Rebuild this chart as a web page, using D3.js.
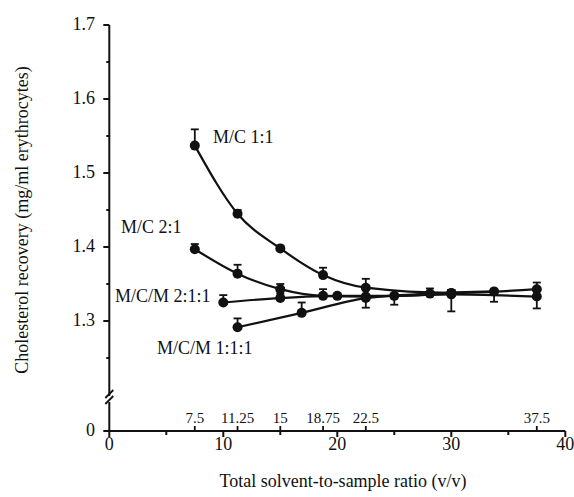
<!DOCTYPE html>
<html>
<head>
<meta charset="utf-8">
<script src="https://cdn.jsdelivr.net/npm/d3@7"></script>
<style>
    body { margin: 0; background: #fff; }
    svg text { font-family: "Liberation Serif", "Times New Roman", serif; fill: #111; }
    .curve { fill: none; stroke: #111; stroke-width: 2.2; }
    .err { stroke: #111; stroke-width: 1.8; fill: none; }
    .axis-line { stroke: #111; stroke-width: 2; fill: none; }
</style>
</head>
<body>
<svg class="chart"></svg>
<script>
var width = 574;
var height = 497;

// x positions of each series (v/v)
var xMC = [7.5, 11.25, 15, 18.75, 22.5, 30, 37.5];
var xMCM211 = [10, 15, 20, 25, 30];
var xMCM111 = [11.25, 16.875, 22.5, 28.125, 33.75];

// cholesterol recovery, mg/ml; error > 0 drawn up, < 0 drawn down
var mc11 = [1.537, 1.445, 1.398, 1.362, 1.345, 1.338, 1.343];
var mc11Err = [0.022, 0.005, 0.004, 0.010, 0.012, 0.004, 0.009];
var mc21 = [1.397, 1.364, 1.343, 1.334, 1.333, 1.336, 1.333];
var mc21Err = [0.007, 0.012, 0.007, 0.009, 0, 0.005, -0.016];
var mcm211 = [1.325, 1.331, 1.334, 1.334, 1.337];
var mcm211Err = [0.010, 0.006, 0, -0.012, -0.024];
var mcm111 = [1.2915, 1.311, 1.331, 1.337, 1.340];
var mcm111Err = [0.012, 0.014, -0.013, 0.007, -0.014];

var seriesNames = ["M/C 1:1", "M/C 2:1", "M/C/M 2:1:1", "M/C/M 1:1:1"];

var yTicksMajor = [1.3, 1.4, 1.5, 1.6, 1.7];
var yTicksMinor = [1.25, 1.35, 1.45, 1.55, 1.65];
var xTicksMajor = [0, 10, 20, 30, 40];
var xTicksMinor = [5, 15, 25, 35];
var xTicksRatio = [7.5, 11.25, 15, 18.75, 22.5, 37.5];

var series = [
    { name: seriesNames[0], x: xMC, y: mc11, e: mc11Err, lx: 213, ly: 143 },
    { name: seriesNames[1], x: xMC, y: mc21, e: mc21Err, lx: 121, ly: 233 },
    { name: seriesNames[2], x: xMCM211, y: mcm211, e: mcm211Err, lx: 115, ly: 302 },
    { name: seriesNames[3], x: xMCM111, y: mcm111, e: mcm111Err, lx: 157, ly: 354 }
];

var x = d3.scaleLinear().domain([0, 40]).range([109.3, 565.3]);
// broken axis: 0 at the bottom, then 1.2 .. 1.7
var y = d3.scaleLinear().domain([0, 1.2, 1.7]).range([431, 395, 25]);

var chart = d3.select(".chart")
    .attr("width", width)
    .attr("height", height);

var g = chart.append("g");

// y axis, two pieces with a break
var x0 = x(0);
g.append("path").attr("class", "axis-line")
    .attr("d", "M" + x0 + "," + y(1.7) + "V396");
g.append("path").attr("class", "axis-line")
    .attr("d", "M" + x0 + ",402V" + y(0));
g.append("path").attr("class", "err")
    .attr("d", "M" + (x0 - 4) + ",398L" + (x0 + 4) + ",390M" + (x0 - 4) + ",404L" + (x0 + 4) + ",396");

g.selectAll("line.ytick")
    .data(yTicksMajor.concat([0]))
    .enter().append("line")
    .attr("class", "axis-line")
    .attr("x1", x0 - 6).attr("x2", x0)
    .attr("y1", function(d) { return y(d); })
    .attr("y2", function(d) { return y(d); });

g.selectAll("line.yminor")
    .data(yTicksMinor)
    .enter().append("line")
    .attr("class", "axis-line")
    .attr("x1", x0 - 3).attr("x2", x0)
    .attr("y1", function(d) { return y(d); })
    .attr("y2", function(d) { return y(d); });

g.selectAll("text.ylab")
    .data(yTicksMajor.concat([0]))
    .enter().append("text")
    .attr("x", 95)
    .attr("y", function(d) { return y(d) + 5; })
    .attr("text-anchor", "end")
    .style("font-size", "18px")
    .text(function(d) { return d === 0 ? "0" : d3.format(".1f")(d); });

// x axis
var yb = y(0);
g.append("path").attr("class", "axis-line")
    .attr("d", "M" + x0 + "," + yb + "H" + x(40));

g.selectAll("line.xtick")
    .data(xTicksMajor)
    .enter().append("line")
    .attr("class", "axis-line")
    .attr("x1", function(d) { return x(d); })
    .attr("x2", function(d) { return x(d); })
    .attr("y1", yb).attr("y2", yb + 6);

g.selectAll("line.xminor")
    .data(xTicksMinor)
    .enter().append("line")
    .attr("class", "axis-line")
    .attr("x1", function(d) { return x(d); })
    .attr("x2", function(d) { return x(d); })
    .attr("y1", yb).attr("y2", yb + 4);

g.selectAll("line.xratio")
    .data(xTicksRatio)
    .enter().append("line")
    .attr("class", "err")
    .attr("x1", function(d) { return x(d); })
    .attr("x2", function(d) { return x(d); })
    .attr("y1", yb).attr("y2", yb - 5);

g.selectAll("text.xlab")
    .data(xTicksMajor)
    .enter().append("text")
    .attr("x", function(d) { return x(d); })
    .attr("y", yb + 19)
    .attr("text-anchor", "middle")
    .style("font-size", "18px")
    .text(function(d) { return d; });

g.selectAll("text.xratio")
    .data(xTicksRatio)
    .enter().append("text")
    .attr("x", function(d) { return x(d); })
    .attr("y", yb - 8)
    .attr("text-anchor", "middle")
    .style("font-size", "15px")
    .text(function(d) { return d; });

// axis titles
g.append("text")
    .attr("x", 343)
    .attr("y", 487)
    .attr("text-anchor", "middle")
    .style("font-size", "18px")
    .text("Total solvent-to-sample ratio (v/v)");

g.append("text")
    .attr("transform", "translate(28,220) rotate(-90)")
    .attr("text-anchor", "middle")
    .style("font-size", "18px")
    .text("Cholesterol recovery (mg/ml erythrocytes)");

// curves, error bars, points
var line = d3.line()
    .x(function(d) { return x(d[0]); })
    .y(function(d) { return y(d[1]); })
    .curve(d3.curveMonotoneX);

series.forEach(function(s) {
    var pts = s.x.map(function(v, i) { return [v, s.y[i], s.e[i]]; });

    g.append("path").attr("class", "curve").attr("d", line(pts));

    var eb = g.selectAll(null)
        .data(pts.filter(function(p) { return p[2] !== 0; }))
        .enter().append("g").attr("class", "err");
    eb.append("line")
        .attr("x1", function(p) { return x(p[0]); })
        .attr("x2", function(p) { return x(p[0]); })
        .attr("y1", function(p) { return y(p[1]); })
        .attr("y2", function(p) { return y(p[1] + p[2]); });
    eb.append("line")
        .attr("x1", function(p) { return x(p[0]) - 4; })
        .attr("x2", function(p) { return x(p[0]) + 4; })
        .attr("y1", function(p) { return y(p[1] + p[2]); })
        .attr("y2", function(p) { return y(p[1] + p[2]); });

    g.selectAll(null)
        .data(pts)
        .enter().append("circle")
        .attr("cx", function(p) { return x(p[0]); })
        .attr("cy", function(p) { return y(p[1]); })
        .attr("r", 5)
        .attr("fill", "#111");

    g.append("text")
        .attr("x", s.lx)
        .attr("y", s.ly)
        .style("font-size", "18px")
        .text(s.name);
});
</script>
</body>
</html>
